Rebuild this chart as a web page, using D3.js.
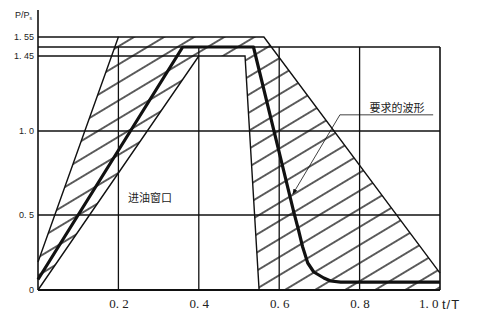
<!DOCTYPE html>
<html><head><meta charset="utf-8">
<script src="https://cdn.jsdelivr.net/npm/d3@7"></script>
<style>body{margin:0;background:#fff}</style>
</head><body><svg id="c" width="477" height="323"></svg>
<script>
// ---- data ----
const yTickValues = [0, 0.5, 1.0, 1.45, 1.55];
const yTickLabels = ["0", "0. 5", "1. 0", "1. 45", "1. 55"];
const xTickValues = [0.2, 0.4, 0.6, 0.8, 1.0];
const xTickLabels = ["0. 2", "0. 4", "0. 6", "0. 8", "1. 0"];
const gridT = [0.2, 0.4, 0.6, 0.8];
const gridP = [0.5, 1.0];
const topRefP = 1.5;
// required waveform (thick line)
const waveT = [0, 0.36, 0.536, 0.636, 0.648, 0.658, 0.671, 0.686, 0.711, 0.728, 0.753, 1.0];
const waveP = [0.07, 1.5, 1.5, 0.52, 0.40, 0.29, 0.18, 0.12, 0.08, 0.06, 0.053, 0.053];
// outer (upper) envelope
const outerT = [0, 0.2, 0.562, 1.0];
const outerP = [0.187, 1.55, 1.55, 0.113];
// inner (lower) envelope = oil-in window
const innerT = [0, 0.40, 0.515, 0.55];
const innerP = [0, 1.45, 1.45, 0];
const windowLabel = "进油窗口";
const waveLabel = "要求的波形";

// ---- scales ----
const svg = d3.select("#c");
const x = d3.scaleLinear().domain([0, 1]).range([38, 440]);
const y = d3.scaleLinear().domain([0, 0.5, 1.0, 1.45, 1.5, 1.55]).range([290, 215, 131, 56, 47, 37]);
const ink = "#111";

const defs = svg.append("defs");
const pat = defs.append("pattern").attr("id", "hatch")
  .attr("patternUnits", "userSpaceOnUse").attr("width", 12).attr("height", 15.5)
  .attr("patternTransform", "rotate(-31)");
pat.append("line").attr("x1", 0).attr("x2", 12).attr("y1", 7.75).attr("y2", 7.75)
  .attr("stroke", ink).attr("stroke-width", 1.35);
defs.append("marker").attr("id", "arr").attr("viewBox", "0 0 10 10")
  .attr("refX", 9).attr("refY", 5).attr("markerWidth", 7).attr("markerHeight", 7)
  .attr("orient", "auto-start-reverse")
  .append("path").attr("d", "M0,1 L10,5 L0,9 Z").attr("fill", ink);

const pts = (T, P) => T.map((t, i) => [x(t), y(P[i])]);
const line = d3.line();

// hatched band between envelopes
const outerPoly = pts(outerT, outerP).concat([[x(1), y(0)], [x(0), y(0)]]);
const innerPoly = pts(innerT, innerP);
svg.append("path")
  .attr("d", line(outerPoly) + "Z" + line(innerPoly) + "Z")
  .attr("fill", "url(#hatch)").attr("fill-rule", "evenodd").attr("stroke", "none");

// grid
svg.selectAll(".gv").data(gridT).join("line")
  .attr("x1", d => x(d)).attr("x2", d => x(d)).attr("y1", y(topRefP)).attr("y2", y(0))
  .attr("stroke", ink).attr("stroke-width", 1.3);
svg.selectAll(".gh").data(gridP).join("line")
  .attr("x1", x(0)).attr("x2", x(1)).attr("y1", d => y(d)).attr("y2", d => y(d))
  .attr("stroke", ink).attr("stroke-width", 1.4);
// reference lines
svg.append("line").attr("x1", x(0)).attr("x2", x(1)).attr("y1", y(topRefP)).attr("y2", y(topRefP))
  .attr("stroke", ink).attr("stroke-width", 1.4);
svg.append("line").attr("x1", x(0)).attr("x2", x(outerT[1])).attr("y1", y(outerP[1])).attr("y2", y(outerP[1]))
  .attr("stroke", ink).attr("stroke-width", 1.4);
svg.append("line").attr("x1", x(0)).attr("x2", x(innerT[1])).attr("y1", y(innerP[1])).attr("y2", y(innerP[1]))
  .attr("stroke", ink).attr("stroke-width", 1.6);

// envelopes
svg.append("path").attr("d", line(pts(outerT, outerP))).attr("fill", "none")
  .attr("stroke", ink).attr("stroke-width", 1.4);
svg.append("path").attr("d", line(pts(innerT, innerP))).attr("fill", "none")
  .attr("stroke", ink).attr("stroke-width", 1.4);

// frame / axes
svg.append("line").attr("x1", x(0)).attr("x2", x(0)).attr("y1", 10).attr("y2", y(0))
  .attr("stroke", ink).attr("stroke-width", 1.6);
svg.append("line").attr("x1", x(0)).attr("x2", x(1)).attr("y1", y(0)).attr("y2", y(0))
  .attr("stroke", ink).attr("stroke-width", 1.8);
svg.append("line").attr("x1", x(1)).attr("x2", x(1)).attr("y1", y(topRefP)).attr("y2", y(0))
  .attr("stroke", ink).attr("stroke-width", 1.6);

// waveform
svg.append("path").attr("d", d3.line().curve(d3.curveLinear)(pts(waveT, waveP)))
  .attr("fill", "none").attr("stroke", ink).attr("stroke-width", 3.2)
  .attr("stroke-linejoin", "round");

// y tick labels
const yAxis = d3.axisLeft(y).tickValues(yTickValues).tickSize(0).tickPadding(4)
  .tickFormat((d, i) => yTickLabels[i]);
const gy = svg.append("g").attr("transform", `translate(${x(0)},0)`).call(yAxis);
gy.select(".domain").remove();
gy.selectAll("text").attr("font-family", "Liberation Sans, Arial, sans-serif")
  .attr("font-size", 9).attr("fill", "#222");

// x tick labels
const xAxis = d3.axisBottom(x).tickValues(xTickValues).tickSize(0).tickPadding(9)
  .tickFormat((d, i) => xTickLabels[i]);
const gx = svg.append("g").attr("transform", `translate(0,${y(0)})`).call(xAxis);
gx.select(".domain").remove();
gx.selectAll("text").attr("font-family", "Liberation Serif, Times New Roman, serif")
  .attr("font-size", 13).attr("fill", "#222");
gx.selectAll(".tick").filter(d => d === 1.0).select("text")
  .attr("text-anchor", "end").attr("dx", -2);

// axis titles
svg.append("text").attr("x", x(1) + 2).attr("y", y(0) + 19)
  .attr("font-family", "Liberation Sans, Arial, sans-serif").attr("font-size", 13)
  .attr("letter-spacing", 1).attr("fill", "#222").text("t/T");
const yt = svg.append("text").attr("x", 15).attr("y", 18)
  .attr("font-family", "Liberation Sans, Arial, sans-serif").attr("font-size", 9).attr("fill", "#222");
yt.append("tspan").text("P/P");
yt.append("tspan").attr("font-size", 5).attr("dy", 2).text("s");

// annotations
svg.append("text").attr("x", x(0.224)).attr("y", y(0.60) + 4)
  .attr("font-family", "Noto Sans CJK SC, sans-serif").attr("font-size", 11).attr("fill", "#222")
  .text(windowLabel);
svg.append("text").attr("x", x(0.893)).attr("y", y(1.14) + 4).attr("text-anchor", "middle")
  .attr("font-family", "Noto Sans CJK SC, sans-serif").attr("font-size", 11).attr("fill", "#222")
  .text(waveLabel);
svg.append("line").attr("x1", x(0.751)).attr("x2", x(0.983)).attr("y1", y(1.097)).attr("y2", y(1.097))
  .attr("stroke", ink).attr("stroke-width", 0.8);
svg.append("line").attr("x1", x(0.751)).attr("y1", y(1.097)).attr("x2", x(0.634)).attr("y2", y(0.625))
  .attr("stroke", ink).attr("stroke-width", 0.8).attr("marker-end", "url(#arr)");
</script></body></html>
